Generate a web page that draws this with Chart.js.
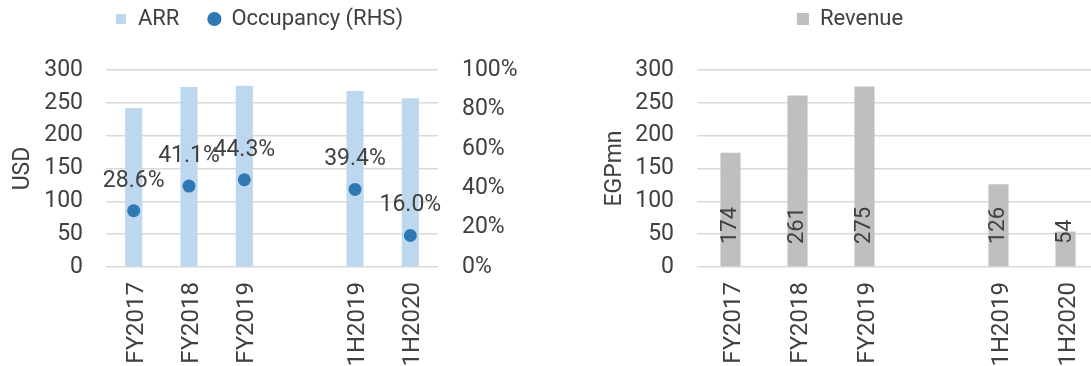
<!DOCTYPE html>
<html>
<head>
<meta charset="utf-8">
<script src="https://cdn.jsdelivr.net/npm/chart.js@4.4.0/dist/chart.umd.min.js"></script>
<style>
html, body { margin: 0; padding: 0; width: 1091px; height: 366px; overflow: hidden; background: #fff; }
#arr-chart { position: absolute; left: 0; top: -21px; }
#revenue-chart { position: absolute; left: 601px; top: -21px; }
</style>
</head>
<body>
<canvas id="arr-chart" width="518" height="440"></canvas>
<canvas id="revenue-chart" width="498" height="440"></canvas>
<script>
// data (blank slot = gap between full years and halves)
var periods = ['FY2017', 'FY2018', 'FY2019', '', '1H2019', '1H2020'];
var arr = [242, 274, 276, null, 268, 257];
var occupancy = [28.6, 41.1, 44.3, null, 39.4, 16.0];
var revenue = [174, 261, 275, null, 126, 54];

var textColor = '#404040';
var gridColor = '#d9d9d9';

Chart.defaults.font.family = 'Roboto';
Chart.defaults.font.size = 23;
Chart.defaults.color = textColor;

// draws the value labels (no datalabels plugin available offline)
var valueLabels = {
    id: 'valueLabels',
    afterDatasetsDraw: function(chart, args, opts) {
        var ctx = chart.ctx;
        var meta = chart.getDatasetMeta(opts.dataset);
        var values = chart.data.datasets[opts.dataset].data;
        ctx.save();
        ctx.fillStyle = textColor;
        meta.data.forEach(function(el, i) {
            var v = values[i];
            if (v === null || v === undefined) return;
            if (opts.mode === 'above') {
                ctx.font = '23px Roboto';
                ctx.textAlign = 'center';
                ctx.textBaseline = 'alphabetic';
                ctx.fillText(v.toFixed(1) + '%', el.x, el.y - 24);
            } else {
                var base = chart.scales.y.getPixelForValue(0);
                ctx.font = '22px Roboto';
                ctx.save();
                ctx.translate(el.x, base - 23);
                ctx.rotate(-Math.PI / 2);
                ctx.textAlign = 'left';
                ctx.textBaseline = 'middle';
                ctx.fillText(String(v), 0, 0);
                ctx.restore();
            }
        });
        ctx.restore();
    }
};

function xAxis() {
    return {
        grid: { display: false, drawTicks: false },
        border: { display: false },
        ticks: { minRotation: 90, maxRotation: 90, autoSkip: false, padding: 15, labelOffset: 3, font: { size: 24 } },
        afterFit: function(s) { s.height = 152; s.paddingLeft = 0; s.paddingRight = 0; }
    };
}

function yAxis(title, titlePad, width) {
    return {
        position: 'left',
        min: 0,
        max: 300,
        ticks: { stepSize: 50, padding: 23 },
        grid: { color: gridColor, lineWidth: 1.5, drawTicks: false },
        border: { display: false },
        title: { display: true, text: title, padding: { top: titlePad, bottom: 0 } },
        afterFit: function(s) { s.width = width; }
    };
}

// spacer between legend and plot
var spacer = { display: true, text: '', weight: 500, font: { size: 10, lineHeight: 1 }, padding: { top: 10, bottom: 10 } };

new Chart(document.getElementById('arr-chart'), {
    type: 'bar',
    data: {
        labels: periods,
        datasets: [{
            label: 'ARR',
            data: arr,
            backgroundColor: '#bdd7ee',
            borderWidth: 0,
            pointStyle: 'rect',
            barPercentage: 0.31,
            categoryPercentage: 1,
            yAxisID: 'y',
            order: 2
        }, {
            type: 'line',
            label: 'Occupancy (RHS)',
            data: occupancy,
            showLine: false,
            backgroundColor: '#2e78b4',
            borderColor: '#2e78b4',
            borderWidth: 0,
            pointStyle: 'circle',
            pointRadius: 6.5,
            pointBorderWidth: 0,
            yAxisID: 'y1',
            order: 1
        }]
    },
    options: {
        responsive: false,
        animation: false,
        layout: { padding: 0 },
        plugins: {
            legend: {
                labels: {
                    usePointStyle: true, boxWidth: 12, boxHeight: 10, padding: 29, font: { size: 22 },
                    sort: function(a, b) { return a.datasetIndex - b.datasetIndex; }
                }
            },
            title: spacer,
            tooltip: { enabled: false },
            valueLabels: { dataset: 1, mode: 'above' }
        },
        scales: {
            x: xAxis(),
            y: yAxis('USD', 9, 106),
            y1: {
                position: 'right',
                min: 0,
                max: 100,
                ticks: { stepSize: 20, padding: 24, callback: function(v) { return v + '%'; } },
                grid: { display: false, drawTicks: false },
                border: { display: false },
                afterFit: function(s) { s.width = 80; }
            }
        }
    },
    plugins: [valueLabels]
});

new Chart(document.getElementById('revenue-chart'), {
    type: 'bar',
    data: {
        labels: periods,
        datasets: [{
            label: 'Revenue',
            data: revenue,
            backgroundColor: '#bfbfbf',
            borderWidth: 0,
            barPercentage: 0.3,
            categoryPercentage: 1
        }]
    },
    options: {
        responsive: false,
        animation: false,
        layout: { padding: 0 },
        plugins: {
            legend: {
                labels: { boxWidth: 12, boxHeight: 12, padding: 29, font: { size: 22 } }
            },
            title: spacer,
            tooltip: { enabled: false },
            valueLabels: { dataset: 0, mode: 'base' }
        },
        scales: {
            x: xAxis(),
            y: yAxis('EGPmn', 0, 96)
        }
    },
    plugins: [valueLabels]
});
</script>
</body>
</html>
